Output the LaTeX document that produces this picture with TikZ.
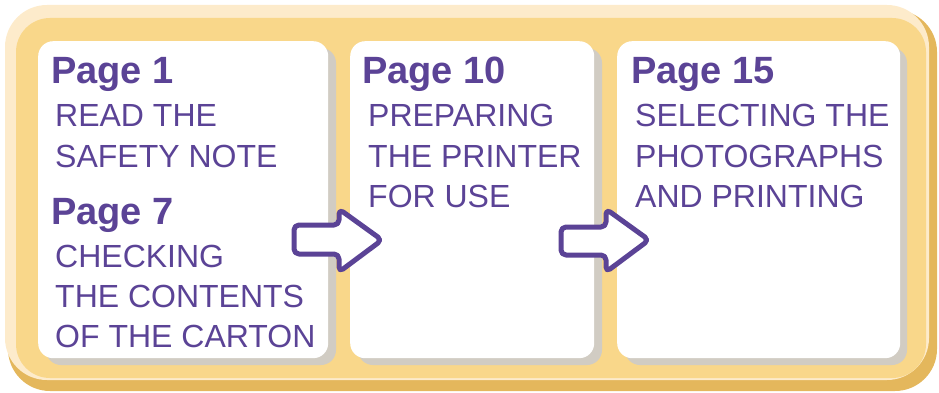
\documentclass[tikz,border=0pt]{standalone}
\usepackage{fontspec}
\setmainfont{Liberation Sans}
\definecolor{ink}{HTML}{5B4396}
\definecolor{edgedark}{HTML}{E4B75C}
\definecolor{edgelight}{HTML}{FDEBCB}
\definecolor{band}{HTML}{F9D78A}
\definecolor{shade}{HTML}{D1CCC3}
\tikzset{
  panel/.style={fill=white, rounded corners=15pt, minimum height=317pt, anchor=north west, inner sep=0pt},
  shadowbox/.style={fill=shade, rounded corners=15pt},
  head/.style={anchor=base west, inner sep=0pt, text=ink, font=\fontsize{38}{40}\selectfont\bfseries},
  body/.style={anchor=base west, inner sep=0pt, text=ink, font=\fontsize{32}{37}\selectfont},
  flowarrow/.style={draw=ink, line width=5pt, fill=white, rounded corners=5pt, line join=round}
}
\begin{document}
\begin{tikzpicture}[x=1pt,y=-1pt]
\useasboundingbox (0,0) rectangle (939,393);
% frame
\fill[edgedark, rounded corners=42pt] (8,10) rectangle (937,391);
\fill[edgelight, rounded corners=42pt] (5,5) rectangle (929,380);
\fill[band, rounded corners=34pt] (16,18) rectangle (926,378);
% shadows
\fill[shadowbox] (46,48) rectangle (336,365);
\fill[shadowbox] (358,48) rectangle (602,365);
\fill[shadowbox] (625,48) rectangle (907,365);
% panels
\node[panel, minimum width=290pt] (p1) at (38,41) {};
\node[panel, minimum width=244pt] (p2) at (350,41) {};
\node[panel, minimum width=283pt] (p3) at (617,41) {};
% arrows
\draw[flowarrow] (294,225) -- (339,225) -- (339,209) -- (382,240) -- (339,272) -- (339,254) -- (294,254) -- cycle;
\draw[flowarrow] (561,227) -- (606,227) -- (606,209) -- (649,240) -- (606,272) -- (606,255) -- (561,255) -- cycle;
% texts box 1
\node[head] (h1) at (51,84) {Page 1};
\node[body] (t1a) at (55,127) {READ THE};
\node[body] (t1b) at (55,167) {SAFETY NOTE};
\node[head] (h7) at (51,224) {Page 7};
\node[body] (t7a) at (55,267) {CHECKING};
\node[body] (t7b) at (55,307) {THE CONTENTS};
\node[body] (t7c) at (55,347) {OF THE CARTON};
% box 2
\node[head] (h10) at (362,84) {Page 10};
\node[body] (t10a) at (368,127) {PREPARING};
\node[body] (t10b) at (368,167) {THE PRINTER};
\node[body] (t10c) at (368,207) {FOR USE};
% box 3
\node[head] (h15) at (631,84) {Page 15};
\node[body] (t15a) at (635,127) {SELECTING THE};
\node[body] (t15b) at (635,167) {PHOTOGRAPHS};
\node[body] (t15c) at (635,207) {AND PRINTING};
\end{tikzpicture}
\end{document}
